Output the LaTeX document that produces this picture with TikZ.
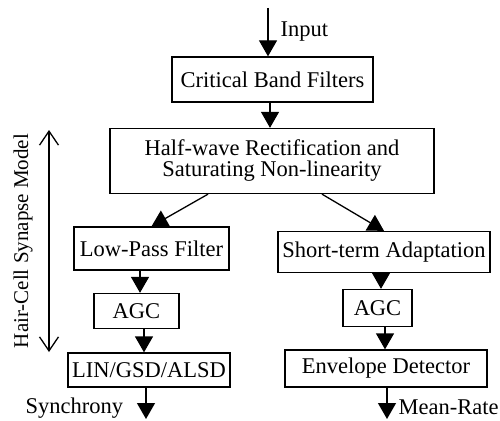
\documentclass[tikz,border=0pt]{standalone}
\usepackage{fontspec}
\setmainfont{Liberation Serif}
\usetikzlibrary{arrows.meta}

\begin{document}
\begin{tikzpicture}[x = 1pt, y = -1pt, line width = 1.3pt,
	box/.style = {draw, inner sep = 0pt, align = center, font = \fontsize{22.5}{21}\selectfont},
	lbl/.style = {inner sep = 0pt, font = \fontsize{22.5}{21}\selectfont},
	arr/.style = {-{Triangle[length = 16pt, width = 18pt]}},
	barb/.style = {{Straight Barb[length = 14pt, width = 19pt]}-{Straight Barb[length = 14pt, width = 19pt]}}]
					\useasboundingbox (0,0) rectangle (500,420);
					\node [box, minimum width = 201pt, minimum height = 45pt] (crit) at (272.5,79.5) {Critical Band Filters};
					\node [box, minimum width = 324pt, minimum height = 65pt] (hwr) at (272,161) {Half-wave Rectification and\\Saturating Non-linearity};
					\node [box, minimum width = 155pt, minimum height = 43pt] (lpf) at (151.5,248.5) {Low-Pass Filter};
					\node [box, minimum width = 85pt, minimum height = 35pt] (agcl) at (136.5,311) {AGC};
					\node [box, minimum width = 162pt, minimum height = 34pt] (lin) at (149,370) {LIN/GSD/ALSD};
					\node [box, minimum width = 212pt, minimum height = 41pt] (sta) at (384,252) {Short-term Adaptation};
					\node [box, minimum width = 69pt, minimum height = 37pt] (agcr) at (377.5,308) {AGC};
					\node [box, minimum width = 202pt, minimum height = 37pt] (env) at (386,368.5) {Envelope Detector};
					\node [lbl, anchor = base west] (inp) at (280,37) {Input};
					\node [lbl, anchor = base west] (sync) at (25,413) {Synchrony};
					\node [lbl, anchor = base west] (rate) at (398,414) {Mean-Rate};
					\node [lbl, rotate = 90, font = \fontsize{21}{21}\selectfont] (hcs) at (23,241) {Hair-Cell Synapse Model};
					\coordinate (in) at (268,8);
					\coordinate (sy) at (146,419);
					\coordinate (mr) at (387,419);
					\coordinate (ht) at (49,130);
					\coordinate (hb) at (49,352);
					\draw [arr] (in) -- ([xshift=-4.5pt]crit.north);
					\draw [arr] ([xshift=-2.5pt]crit.south) -- ([xshift=-2pt]hwr.north);
					\draw [arr] ([xshift=-64pt]hwr.south) -- (lpf.north);
					\draw [arr] ([xshift=50pt]hwr.south) -- (sta.north);
					\draw [arr] ([xshift=-11.5pt]lpf.south) -- ([xshift=3.5pt]agcl.north);
					\draw [arr] ([xshift=7.5pt]agcl.south) -- ([xshift=-5pt]lin.north);
					\draw [arr] ([xshift=-3pt]lin.south) -- (sy);
					\draw [arr] ([xshift=-3pt]sta.south) -- ([xshift=3.5pt]agcr.north);
					\draw [arr] ([xshift=7.5pt]agcr.south) -- ([xshift=-1pt]env.north);
					\draw [arr] ([xshift=1pt]env.south) -- (mr);
					\draw [barb] (ht) -- (hb);
				\end{tikzpicture}
\end{document}
